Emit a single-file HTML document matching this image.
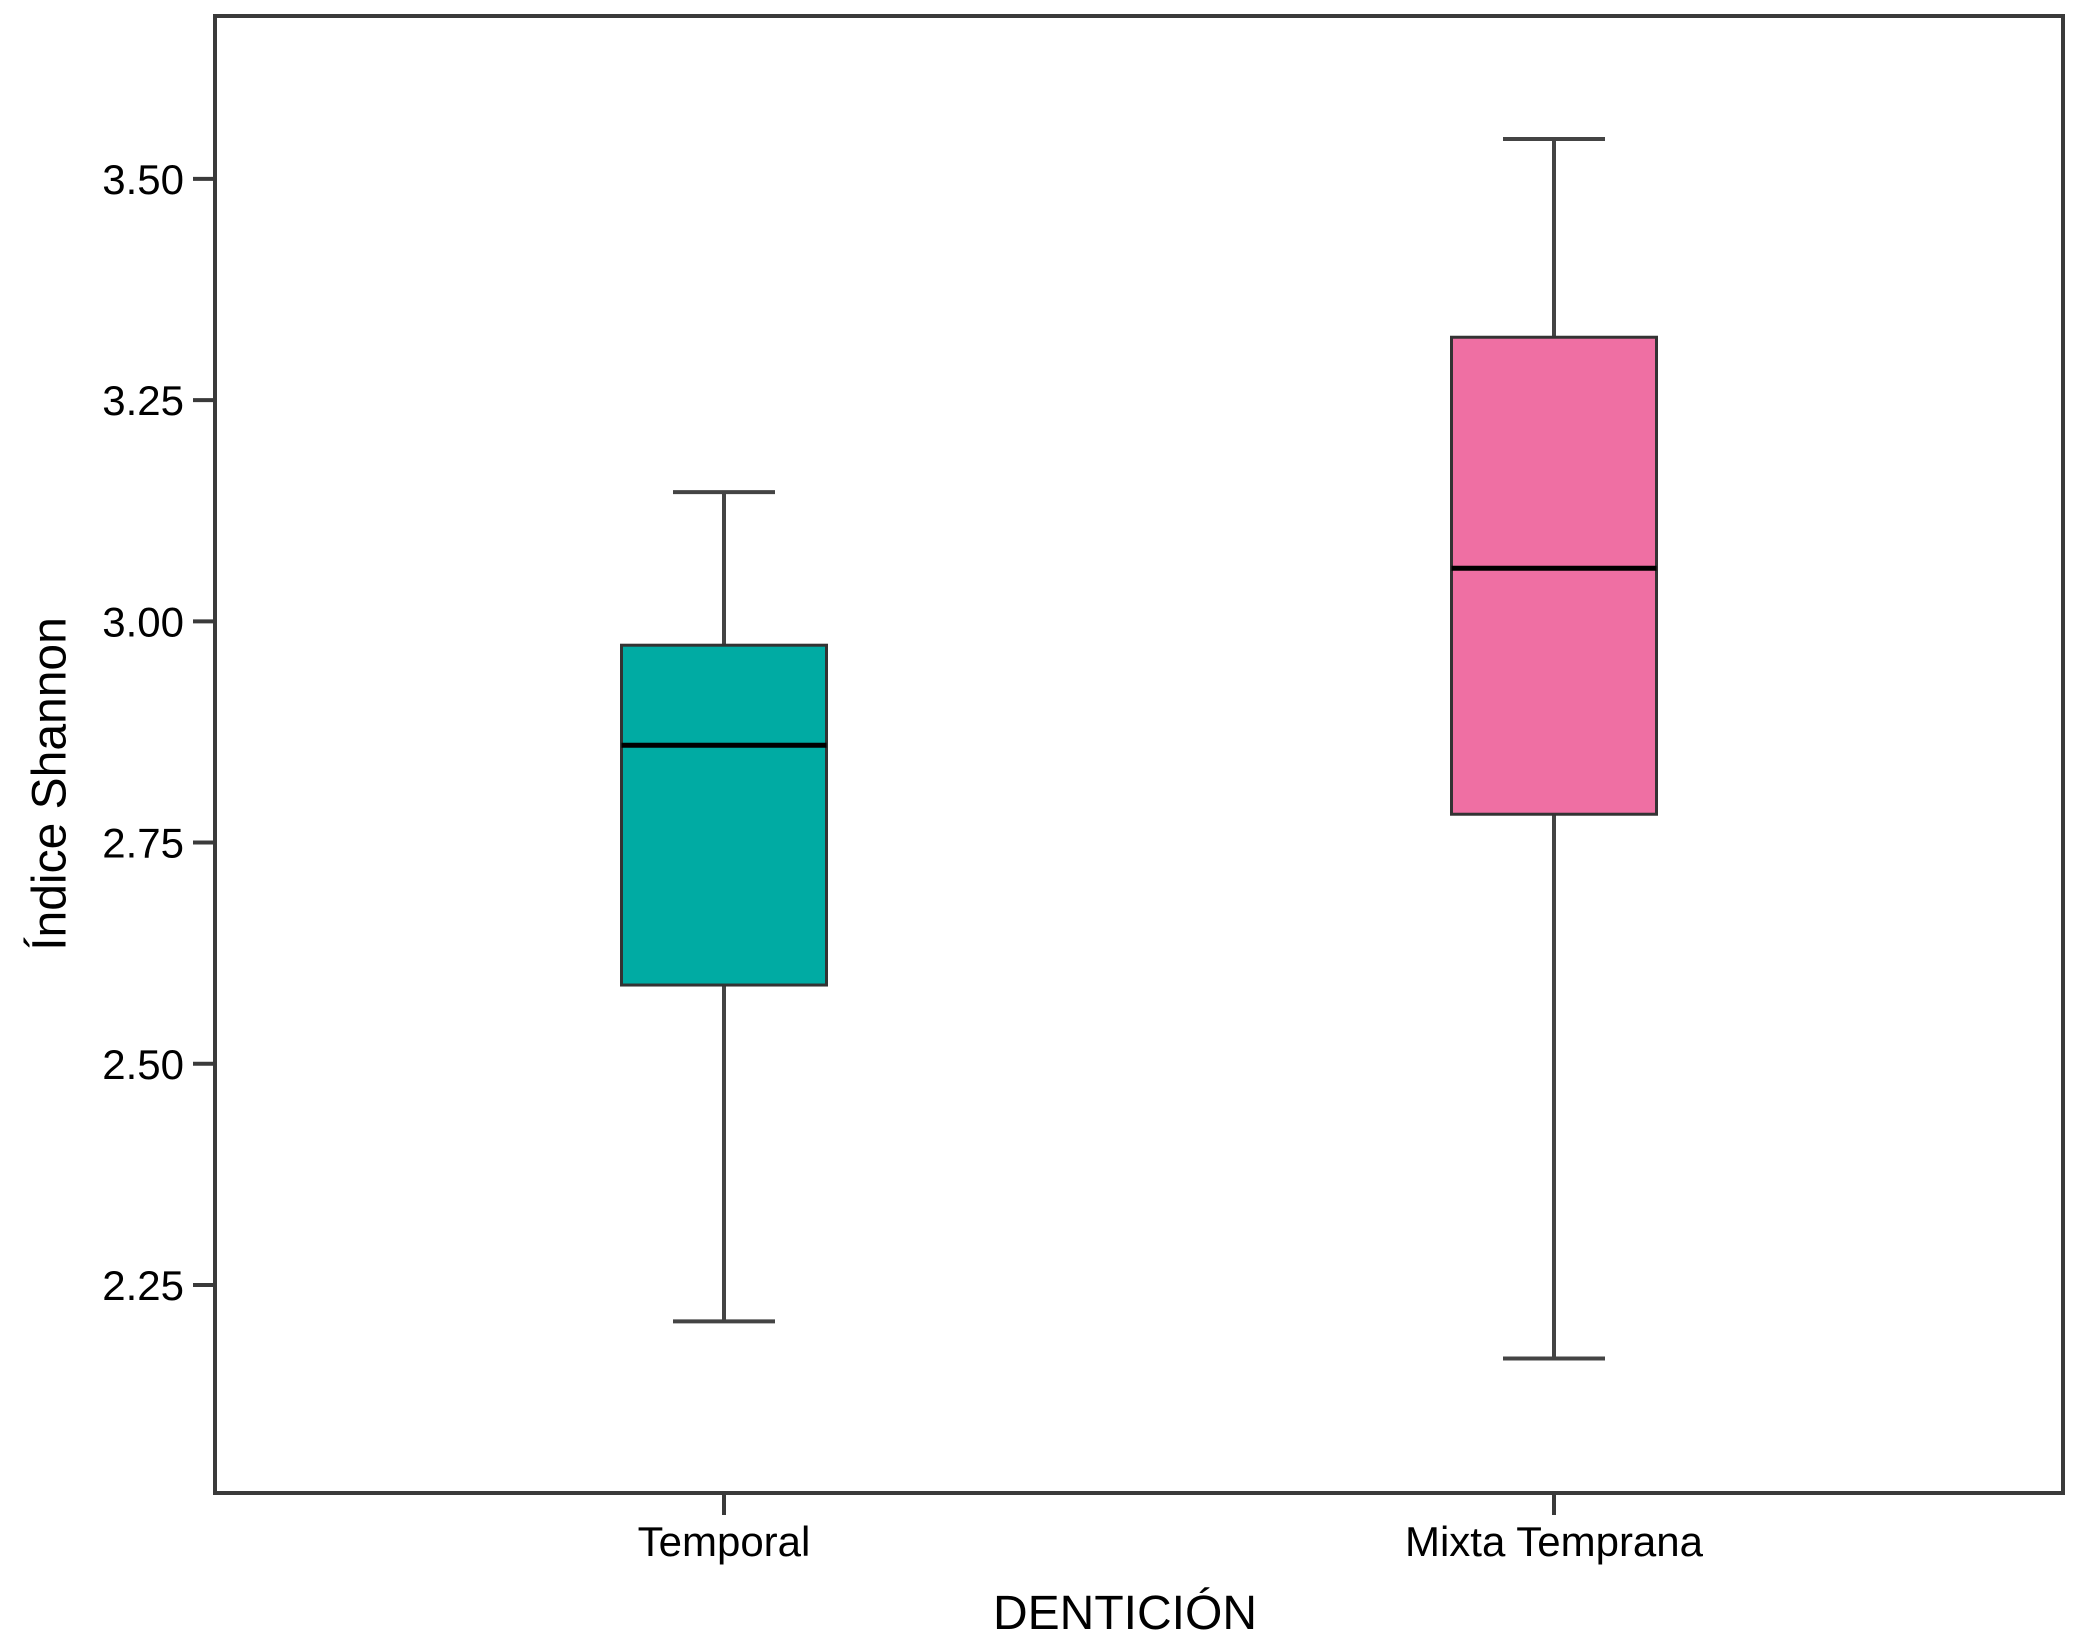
<!DOCTYPE html>
<html><head><meta charset="utf-8"><style>
body{margin:0;background:#fff}
svg{display:block;font-family:"Liberation Sans",sans-serif}
</style></head><body>
<svg id="chart" width="2083" height="1641" viewBox="0 0 2083 1641">
<rect x="215" y="16" width="1848" height="1477" fill="#fff" stroke="#3a3a3a" stroke-width="4"/>
<g id="yaxis"></g>
<g id="xaxis"></g>
<g id="boxes"></g>
<text x="53" y="784" font-size="48" text-anchor="middle" dominant-baseline="middle" transform="rotate(-90 53 784)">Índice Shannon</text>
<text x="1125" y="1629" font-size="48" text-anchor="middle">DENTICIÓN</text>
</svg>
<script>
const categories=["Temporal","Mixta Temprana"];
const whiskerLow=[2.209,2.167];
const q1=[2.589,2.782];
const median=[2.860,3.060];
const q3=[2.973,3.321];
const whiskerHigh=[3.146,3.545];
const colors=["#00ABA3","#EF6FA3"];
const yTicks=[2.25,2.50,2.75,3.00,3.25,3.50];
const yTickLabels=["2.25","2.50","2.75","3.00","3.25","3.50"];

const NS="http://www.w3.org/2000/svg";
const plotL=215,plotR=2063,plotT=16,plotB=1493;
const yMin=2.015,yMax=3.684;
function y(v){return plotB-(v-yMin)/(yMax-yMin)*(plotB-plotT);}
const xCenters=[724,1554];
function x(i){return xCenters[i];}
function mk(tag,attrs,parent){const e=document.createElementNS(NS,tag);for(const k in attrs)e.setAttribute(k,attrs[k]);parent.appendChild(e);return e;}

const ya=document.getElementById('yaxis');
yTicks.forEach((t,i)=>{
  const l=mk('line',{x1:193,x2:215,y1:y(t),y2:y(t),stroke:'#3a3a3a','stroke-width':4},ya);
  
  
  const tx=mk('text',{x:184,y:y(t)+15,'font-size':42,'text-anchor':'end'},ya);
  tx.textContent=yTickLabels[i];
  
  
});
const xa=document.getElementById('xaxis');
categories.forEach((c,i)=>{
  const l=mk('line',{x1:x(i),x2:x(i),y1:plotB,y2:plotB+22,stroke:'#3a3a3a','stroke-width':4},xa);
  
  
  const tx=mk('text',{x:x(i),y:1556,'font-size':42,'text-anchor':'middle'},xa);
  tx.textContent=c;
  
  
});
const bx=document.getElementById('boxes');
const bw=205,cw=102;
categories.forEach((c,i)=>{
  const g=mk('g',{},bx);
  
  
  const cx=x(i),st={stroke:'#444','stroke-width':4};
  mk('line',Object.assign({x1:cx,x2:cx,y1:y(whiskerHigh[i]),y2:y(q3[i])},st),g);
  mk('line',Object.assign({x1:cx,x2:cx,y1:y(q1[i]),y2:y(whiskerLow[i])},st),g);
  mk('line',Object.assign({x1:cx-cw/2,x2:cx+cw/2,y1:y(whiskerHigh[i]),y2:y(whiskerHigh[i])},st),g);
  mk('line',Object.assign({x1:cx-cw/2,x2:cx+cw/2,y1:y(whiskerLow[i]),y2:y(whiskerLow[i])},st),g);
  mk('rect',{x:cx-bw/2,y:y(q3[i]),width:bw,height:y(q1[i])-y(q3[i]),fill:colors[i],stroke:'#333','stroke-width':3},g);
  mk('line',{x1:cx-bw/2,x2:cx+bw/2,y1:y(median[i]),y2:y(median[i]),stroke:'#000','stroke-width':5},g);
});
</script>
</body></html>
